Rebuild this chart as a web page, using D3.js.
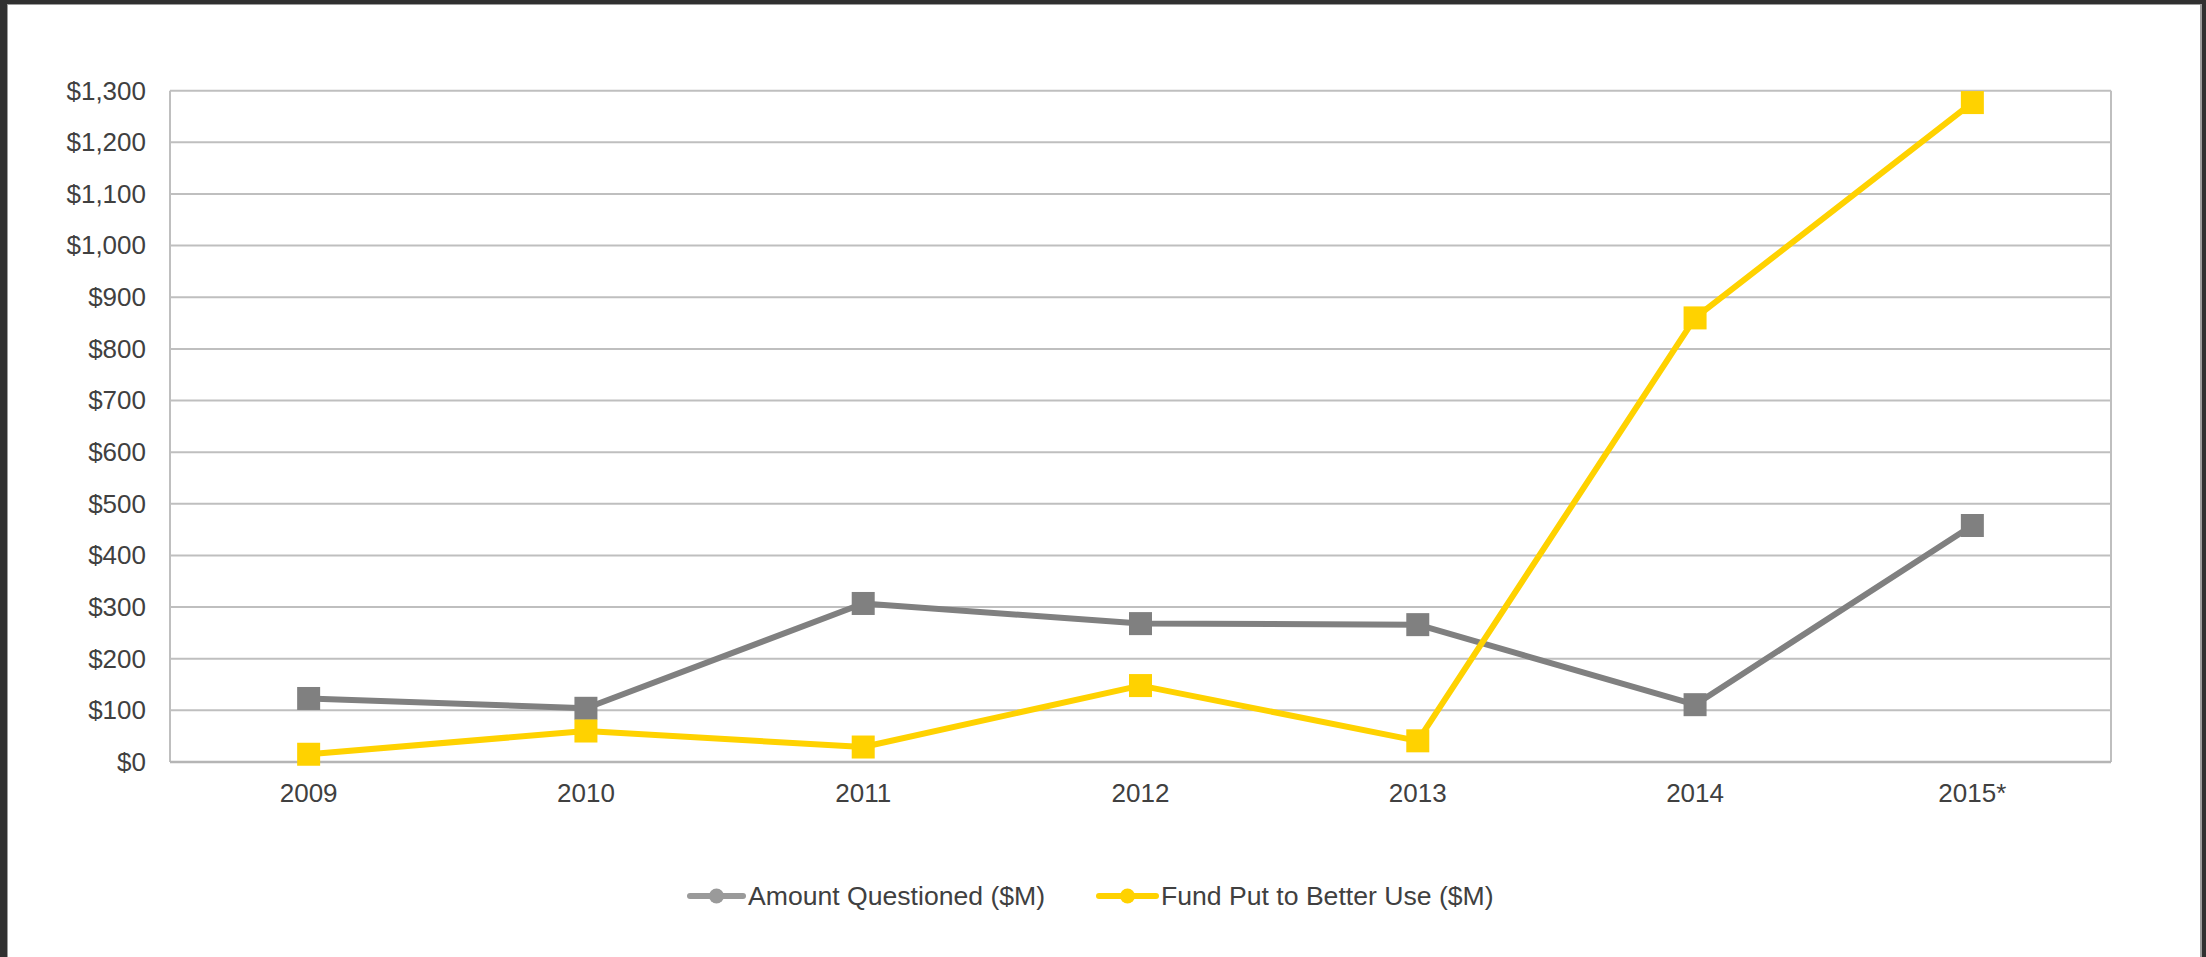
<!DOCTYPE html>
<html>
<head>
<meta charset="utf-8">
<script src="https://cdn.jsdelivr.net/npm/d3@7"></script>
<style>
  html, body { margin: 0; padding: 0; background: #fff; }
  svg { display: block; }
  text { font-family: "Liberation Sans", Arial, sans-serif; fill: #404040; }
</style>
</head>
<body>
<svg id="chart" width="2206" height="957"></svg>
<script>
const years = ["2009", "2010", "2011", "2012", "2013", "2014", "2015*"];
const amountQuestioned = [123, 104, 307, 268, 266, 111, 458];
const fundBetterUse = [15, 60, 29, 148, 41, 860, 1277];
const yTicks = [0, 100, 200, 300, 400, 500, 600, 700, 800, 900, 1000, 1100, 1200, 1300];
const seriesNames = ["Amount Questioned ($M)", "Fund Put to Better Use ($M)"];
const seriesColors = ["#808080", "#FFD200"];
const legendColors = ["#9a9a9a", "#FFD200"];

const svg = d3.select("#chart");
const W = 2206, H = 957;

// page frame
svg.append("rect").attr("x", 0).attr("y", 0).attr("width", W).attr("height", H).attr("fill", "#303030");
svg.append("rect").attr("x", 7).attr("y", 4).attr("width", 2195).attr("height", H).attr("fill", "#9c9c9c");
svg.append("rect").attr("x", 8).attr("y", 5).attr("width", 2192).attr("height", H).attr("fill", "#ffffff");

const plot = { left: 170, right: 2111, top: 90.7, bottom: 762 };

const x = d3.scaleBand().domain(years).range([plot.left, plot.right]).padding(0);
const y = d3.scaleLinear().domain([0, 1300]).range([plot.bottom, plot.top]);

// gridlines
svg.append("g").selectAll("line").data(yTicks).join("line")
  .attr("x1", plot.left).attr("x2", plot.right)
  .attr("y1", d => y(d)).attr("y2", d => y(d))
  .attr("stroke", "#bfbfbf").attr("stroke-width", 2);

// plot borders
svg.append("line").attr("x1", plot.left).attr("x2", plot.left).attr("y1", plot.top).attr("y2", plot.bottom)
  .attr("stroke", "#bfbfbf").attr("stroke-width", 2);
svg.append("line").attr("x1", plot.right).attr("x2", plot.right).attr("y1", plot.top).attr("y2", plot.bottom)
  .attr("stroke", "#bfbfbf").attr("stroke-width", 2);
svg.append("line").attr("x1", plot.left).attr("x2", plot.right).attr("y1", plot.bottom).attr("y2", plot.bottom)
  .attr("stroke", "#b5b5b5").attr("stroke-width", 2.5);

// y axis labels
const yAxis = d3.axisLeft(y).tickValues(yTicks).tickSize(0).tickPadding(24)
  .tickFormat(d => "$" + d3.format(",")(d));
const gy = svg.append("g").attr("transform", `translate(${plot.left},0)`).call(yAxis);
gy.select(".domain").remove();
gy.selectAll("text").attr("font-size", 26).style("fill", "#404040")
  .attr("font-family", "Liberation Sans, Arial, sans-serif");

// x axis labels
const xAxis = d3.axisBottom(x).tickSize(0).tickPadding(22);
const gx = svg.append("g").attr("transform", `translate(0,${plot.bottom})`).call(xAxis);
gx.select(".domain").remove();
gx.selectAll("text").attr("font-size", 26).style("fill", "#404040")
  .attr("font-family", "Liberation Sans, Arial, sans-serif");

// series
const series = [amountQuestioned, fundBetterUse];
const line = d3.line().x((d, i) => x(years[i]) + x.bandwidth() / 2).y(d => y(d));
const ms = 23;
series.forEach((vals, si) => {
  svg.append("path").datum(vals).attr("d", line)
    .attr("fill", "none").attr("stroke", seriesColors[si]).attr("stroke-width", 6)
    .attr("stroke-linejoin", "round");
  svg.append("g").selectAll("rect").data(vals).join("rect")
    .attr("x", (d, i) => x(years[i]) + x.bandwidth() / 2 - ms / 2)
    .attr("y", d => y(d) - ms / 2)
    .attr("width", ms).attr("height", ms)
    .attr("fill", seriesColors[si]);
});

// legend
const legendY = 896;
const legendItems = [
  { x0: 690, x1: 743, tx: 748 },
  { x0: 1099, x1: 1156, tx: 1161 }
];
legendItems.forEach((it, i) => {
  const g = svg.append("g");
  g.append("line").attr("x1", it.x0).attr("x2", it.x1).attr("y1", legendY).attr("y2", legendY)
    .attr("stroke", legendColors[i]).attr("stroke-width", 6).attr("stroke-linecap", "round");
  g.append("circle").attr("cx", (it.x0 + it.x1) / 2).attr("cy", legendY).attr("r", 7.5)
    .attr("fill", legendColors[i]);
  g.append("text").attr("x", it.tx).attr("y", legendY).attr("dy", "0.35em")
    .attr("font-size", 26.6).text(seriesNames[i]);
});
</script>
</body>
</html>
